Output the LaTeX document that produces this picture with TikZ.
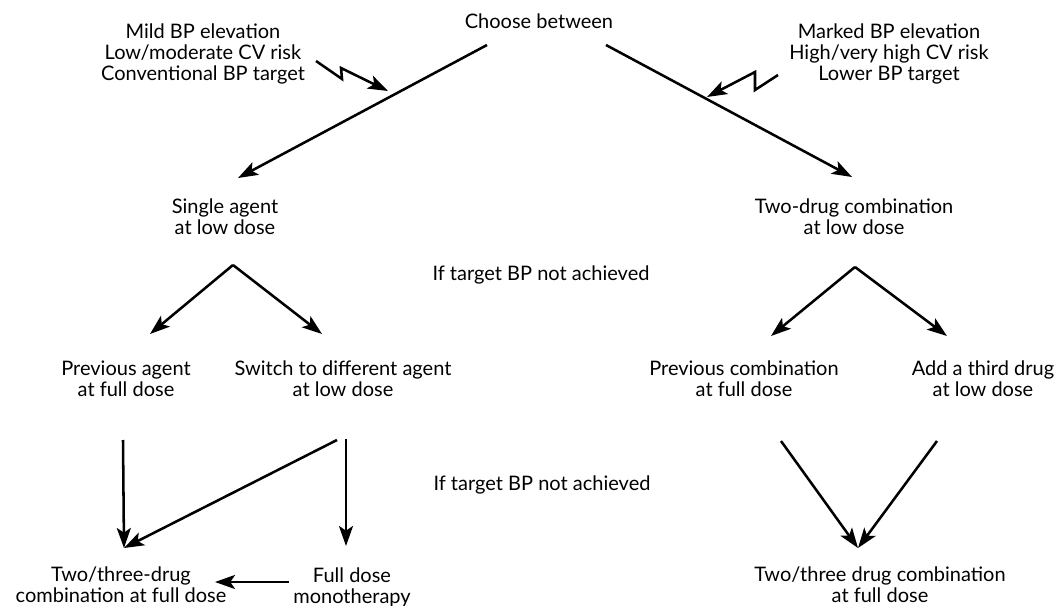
\documentclass[tikz,border=0pt]{standalone}
\usepackage{fontspec}
\setmainfont{Lato}
\usetikzlibrary{arrows.meta,positioning}

\begin{document}
\begin{tikzpicture}[x=0.75pt,y=-0.75pt,>={Stealth[length=15pt,width=10.5pt,inset=3.5pt]}]
    \tikzset{txt/.style={align=center,inner sep=0pt,font=\fontsize{15}{15.75}\selectfont}}
    \tikzset{arr/.style={->,line width=1.9pt}}
    \useasboundingbox (0,0) rectangle (1058,606);
    % text nodes
    \node[txt] (choose) at (539,21) {Choose between};
    \node[txt] (mild) at (203,54) {Mild BP elevation\\Low/moderate CV risk\\Conventional BP target};
    \node[txt] (marked) at (889,54) {Marked BP elevation\\High/very high CV risk\\Lower BP target};
    \node[txt] (single) at (225,217) {Single agent\\at low dose};
    \node[txt] (twodrug) at (854,217) {Two-drug combination\\at low dose};
    \node[txt] (target1) at (541,275) {If target BP not achieved};
    \node[txt] (prevagent) at (126,379) {Previous agent\\at full dose};
    \node[txt] (switch) at (343,379) {Switch to different agent\\at low dose};
    \node[txt] (prevcomb) at (744,379) {Previous combination\\at full dose};
    \node[txt] (third) at (983,379) {Add a third drug\\at low dose};
    \node[txt] (target2) at (542,485) {If target BP not achieved};
    \node[txt] (comboL) at (121,585) {Two/three-drug\\combination at full dose};
    \node[txt] (fullmono) at (352,587) {Full dose\\monotherapy};
    \node[txt] (comboR) at (880,585) {Two/three drug combination\\at full dose};
    % connector ends
    \coordinate (choose-l) at (487,45);
    \coordinate (choose-r) at (606,45);
    \coordinate (single-in) at (238,178);
    \coordinate (twodrug-in) at (852,177);
    \coordinate (single-out) at (233,265);
    \coordinate (twodrug-out) at (855,267);
    \coordinate (prevagent-in) at (150,334);
    \coordinate (switch-in) at (322,334);
    \coordinate (prevcomb-in) at (771,336);
    \coordinate (third-in) at (947,336);
    \coordinate (prevagent-out) at (123,440);
    \coordinate (switch-out) at (337,440);
    \coordinate (switch-down) at (346,439);
    \coordinate (fullmono-in) at (346,546);
    \coordinate (fullmono-out) at (289,582);
    \coordinate (comboL-in) at (124,548);
    \coordinate (comboL-side) at (215,582);
    \coordinate (prevcomb-out) at (781,441);
    \coordinate (third-out) at (937,441);
    \coordinate (comboR-in) at (858,548);
    \coordinate (mild-bolt) at (316,61);
    \coordinate (marked-bolt) at (778,75);
    \coordinate (hit-l) at (388,91);
    \coordinate (hit-r) at (707,97);
    % first choice
    \draw[arr] (choose-l) -- (single-in);
    \draw[arr] (choose-r) -- (twodrug-in);
    \draw[arr] (mild-bolt) -- ++(26,18) -- ++(-1,-11) -- (hit-l);
    \draw[arr] (marked-bolt) -- ++(-23,15) -- ++(0,-18) -- (hit-r);
    % second step
    \draw[arr] (single-out) -- (prevagent-in);
    \draw[arr] (single-out) -- (switch-in);
    \draw[arr] (twodrug-out) -- (prevcomb-in);
    \draw[arr] (twodrug-out) -- (third-in);
    % third step
    \draw[arr] (prevagent-out) -- (comboL-in);
    \draw[arr] (switch-out) -- (comboL-in);
    \draw[arr] (switch-down) -- (fullmono-in);
    \draw[arr] (fullmono-out) -- (comboL-side);
    \draw[arr] (prevcomb-out) -- (comboR-in);
    \draw[arr] (third-out) -- (comboR-in);
\end{tikzpicture}
\end{document}
